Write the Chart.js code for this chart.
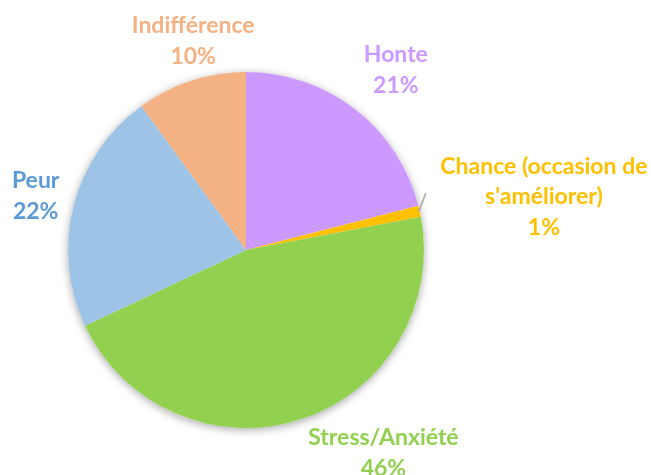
<!DOCTYPE html>
<html>
<head>
<meta charset="utf-8">
<script src="https://cdn.jsdelivr.net/npm/chart.js@4/dist/chart.umd.min.js"></script>
<style>
  html, body { margin: 0; padding: 0; background: #fff; }
  #wrap { width: 651px; height: 475px; }
</style>
</head>
<body>
<div id="wrap"><canvas id="graficoPie" width="651" height="475"></canvas></div>
<script>
// dados
const categorias = ['Honte', 'Chance (occasion de\ns\'améliorer)', 'Stress/Anxiété', 'Peur', 'Indifférence'];
const valores = [21, 1, 46, 22, 10];
const coresFatias = ['#CC99FF', '#FFC000', '#92D050', '#9DC3E6', '#F4B183'];
const coresTexto = ['#CC99FF', '#FFC000', '#92D050', '#5B9BD5', '#F4B183'];

// ajuste dos rotulos: desvio de angulo (graus) e distancia em raios
const ajusteRotulos = [
  { dAng: 2, dist: 1.315 },
  { dAng: 2.5, dist: 1.70, guia: true },
  { dAng: -16.1, dist: 1.377 },
  { dAng: 0, dist: 1.22 },
  { dAng: 3.8, dist: 1.21 }
];

// sombra leve atras do disco
const sombraPlugin = {
  id: 'sombra',
  beforeDatasetsDraw(chart) {
    const arc = chart.getDatasetMeta(0).data[0];
    if (!arc) return;
    const ctx = chart.ctx;
    ctx.save();
    ctx.shadowColor = 'rgba(0,0,0,0.35)';
    ctx.shadowBlur = 8;
    ctx.shadowOffsetX = 0;
    ctx.shadowOffsetY = 2;
    ctx.fillStyle = '#fff';
    ctx.beginPath();
    ctx.arc(arc.x, arc.y, arc.outerRadius, 0, Math.PI * 2);
    ctx.fill();
    ctx.restore();
  }
};

// rotulos de categoria + percentual
const rotulosPlugin = {
  id: 'rotulos',
  afterDatasetsDraw(chart) {
    const ctx = chart.ctx;
    const meta = chart.getDatasetMeta(0);
    const total = valores.reduce((a, b) => a + b, 0);
    ctx.save();
    ctx.font = 'bold 23px Lato, "Open Sans", sans-serif';
    ctx.textAlign = 'center';
    ctx.textBaseline = 'middle';
    meta.data.forEach((arc, i) => {
      const meio = (arc.startAngle + arc.endAngle) / 2;
      const aj = ajusteRotulos[i];
      const ang = meio + aj.dAng * Math.PI / 180;
      const r = arc.outerRadius;
      const cx = arc.x + Math.cos(ang) * r * aj.dist;
      const cy = arc.y + Math.sin(ang) * r * aj.dist;
      if (aj.guia) {
        ctx.strokeStyle = '#A6A6A6';
        ctx.lineWidth = 1.5;
        ctx.beginPath();
        ctx.moveTo(arc.x + Math.cos(meio) * r * 0.995, arc.y + Math.sin(meio) * r * 0.995);
        const a2 = meio - 5 * Math.PI / 180;
        ctx.lineTo(arc.x + Math.cos(a2) * r * 1.06, arc.y + Math.sin(a2) * r * 1.06);
        ctx.stroke();
      }
      const linhas = categorias[i].split('\n');
      linhas.push(Math.round(valores[i] / total * 100) + '%');
      const alt = 30.5;
      ctx.fillStyle = coresTexto[i];
      linhas.forEach((txt, k) => {
        ctx.fillText(txt, cx, cy + (k - (linhas.length - 1) / 2) * alt);
      });
    });
    ctx.restore();
  }
};

function renderizarGrafico() {
  const contexto = document.getElementById('graficoPie').getContext('2d');
  new Chart(contexto, {
    type: 'pie',
    data: {
      labels: categorias,
      datasets: [{
        data: valores,
        backgroundColor: coresFatias,
        borderWidth: 0
      }]
    },
    options: {
      responsive: false,
      animation: false,
      layout: { padding: { left: 68, right: 227, top: 72, bottom: 47 } },
      plugins: {
        legend: { display: false },
        tooltip: { enabled: false }
      }
    },
    plugins: [sombraPlugin, rotulosPlugin]
  });
}

document.addEventListener('DOMContentLoaded', renderizarGrafico);
</script>
</body>
</html>
